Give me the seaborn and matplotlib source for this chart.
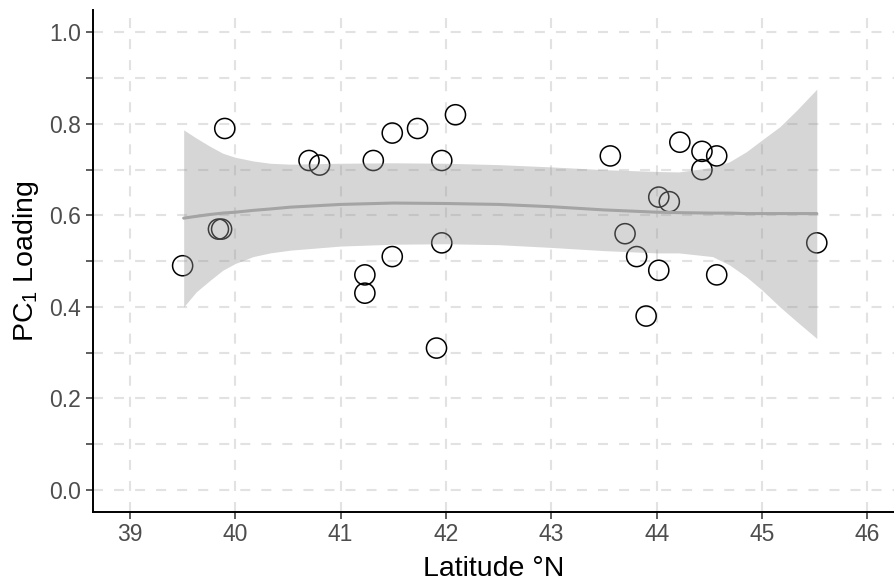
import numpy as np
import matplotlib
matplotlib.use("Agg")
import matplotlib.pyplot as plt
from matplotlib.ticker import MultipleLocator
import seaborn as sns

# site latitude vs PC1 loading (open circles)
latitude = [39.50, 39.84, 39.87, 39.90, 40.70, 40.80, 41.23, 41.23, 41.31, 41.49,
            41.49, 41.73, 41.91, 41.96, 41.96, 42.09, 43.56, 43.70, 43.81, 43.90,
            44.02, 44.02, 44.12, 44.22, 44.43, 44.43, 44.57, 44.57, 45.52]
loading = [0.49, 0.57, 0.57, 0.79, 0.72, 0.71, 0.47, 0.43, 0.72, 0.78,
           0.51, 0.79, 0.31, 0.72, 0.54, 0.82, 0.73, 0.56, 0.51, 0.38,
           0.64, 0.48, 0.63, 0.76, 0.74, 0.70, 0.73, 0.47, 0.54]

# smoother (loess) line and its confidence band
fit_x = [39.51, 39.63, 39.76, 39.88, 40.0, 40.17, 40.33, 40.52, 41.0, 41.5, 42.0, 42.5,
         43.0, 43.5, 44.0, 44.21, 44.53, 44.69, 44.85, 45.0, 45.17, 45.33, 45.52]
fit_y = [0.594, 0.598, 0.602, 0.605, 0.607, 0.611, 0.614, 0.618, 0.624, 0.627, 0.626, 0.624,
         0.619, 0.612, 0.607, 0.606, 0.605, 0.605, 0.604, 0.604, 0.604, 0.604, 0.604]
fit_lo = [0.400, 0.433, 0.458, 0.480, 0.495, 0.510, 0.518, 0.524, 0.533, 0.537, 0.538, 0.536,
          0.530, 0.523, 0.518, 0.518, 0.510, 0.492, 0.466, 0.437, 0.400, 0.368, 0.331]
fit_hi = [0.787, 0.769, 0.751, 0.736, 0.727, 0.719, 0.714, 0.712, 0.714, 0.715, 0.714, 0.711,
          0.706, 0.700, 0.696, 0.695, 0.705, 0.717, 0.739, 0.765, 0.794, 0.830, 0.876]

x_ticks = [39, 40, 41, 42, 43, 44, 45, 46]
y_ticks = [0.0, 0.2, 0.4, 0.6, 0.8, 1.0]

sns.set_theme(style="ticks")
plt.rcParams["font.family"] = ["Liberation Sans", "DejaVu Sans"]
plt.rcParams["mathtext.fontset"] = "custom"
plt.rcParams["mathtext.rm"] = "Liberation Sans"

fig = plt.figure(figsize=(8.94, 5.87), dpi=100)
ax = fig.add_axes([93.3 / 894, (587 - 512.3) / 587, (894 - 93.3) / 894, (512.3 - 10) / 587])

ax.set_axisbelow(True)
grid_kw = dict(color="#e2e2e2", linewidth=1.5, linestyle=(0, (4.8, 5.3)))
ax.grid(which="major", axis="x", **grid_kw)
ax.grid(which="both", axis="y", **grid_kw)

sns.scatterplot(x=latitude, y=loading, ax=ax, s=210, marker="o",
                facecolor="none", edgecolor="black", linewidth=1.1, zorder=2)
ax.fill_between(fit_x, fit_lo, fit_hi, color="#999999", alpha=0.4, linewidth=0, zorder=3)
sns.lineplot(x=fit_x, y=fit_y, ax=ax, color="#a4a4a4", linewidth=2.2, zorder=4)

ax.set_xlim(38.652, 46.253)
ax.set_ylim(-0.049, 1.049)
ax.set_xticks(x_ticks)
ax.set_yticks(y_ticks)
ax.set_yticklabels([f"{v:.1f}" for v in y_ticks])
ax.yaxis.set_minor_locator(MultipleLocator(0.1))

ax.tick_params(which="both", length=5, width=1.1, color="#333333",
               labelsize=16.5, labelcolor="#4d4d4d")
ax.tick_params(axis="x", pad=3)
ax.tick_params(axis="y", pad=4)

for side in ["top", "right"]:
    ax.spines[side].set_visible(False)
for side in ["left", "bottom"]:
    ax.spines[side].set_linewidth(1.4)
    ax.spines[side].set_color("black")

ax.set_xlabel("Latitude °N", fontsize=20.5, color="black", labelpad=7)
ax.set_ylabel(r"PC$_{\mathregular{1}}$ Loading", fontsize=20.5, color="black", labelpad=6)

fig.savefig("out.png", dpi=100)
